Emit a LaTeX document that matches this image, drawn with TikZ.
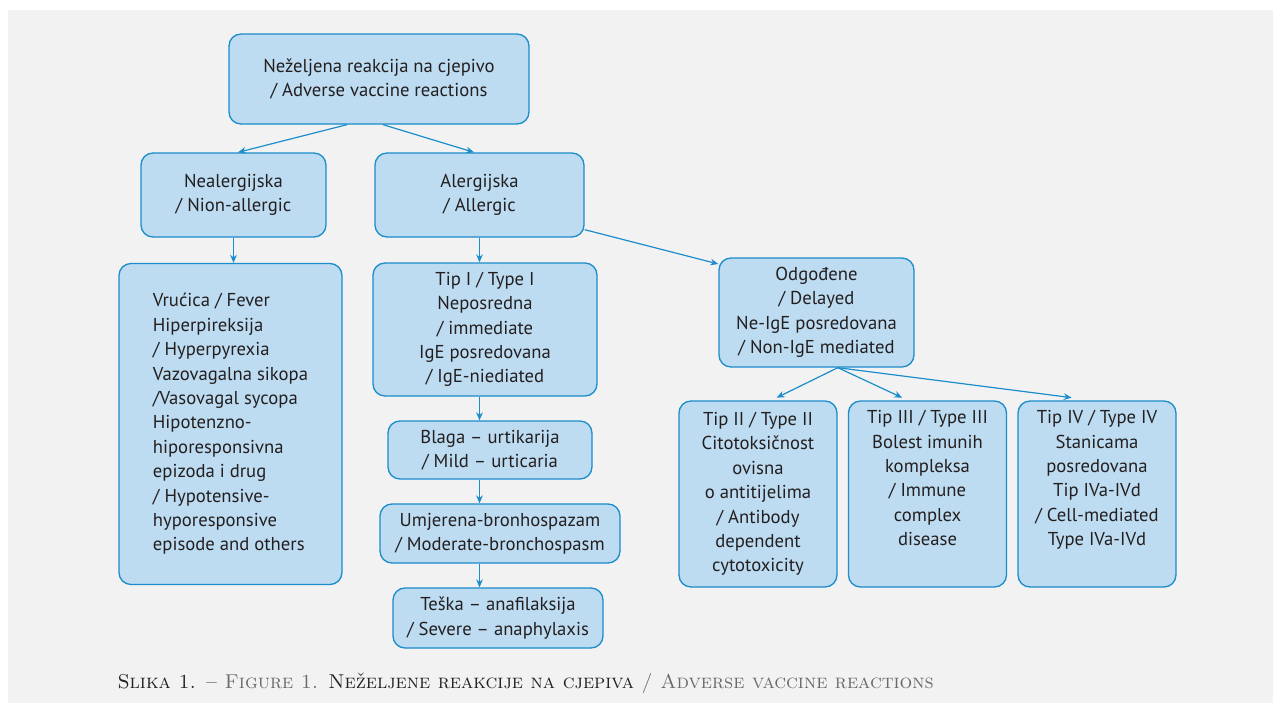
\documentclass[tikz,border=0pt]{standalone}
\usepackage{fontspec}
\newfontfamily\boxfont{PT Sans}
\usetikzlibrary{arrows.meta}

\definecolor{panelgray}{RGB}{242,242,242}
\definecolor{boxblue}{RGB}{190,220,241}
\definecolor{lineblue}{RGB}{27,140,204}
\definecolor{txtdark}{RGB}{35,31,32}
\definecolor{capgray}{RGB}{105,105,108}

\tikzset{every picture/.style={line width=0.75pt}}
\tikzset{
	blk/.style={draw=lineblue, fill=boxblue, rounded corners=9pt, line width=1pt, align=center, inner sep=0pt, text=txtdark, font=\boxfont\fontsize{14}{18.3}\selectfont},
	conn/.style={draw=lineblue, line width=0.9pt, -{Stealth[length=6pt,width=5pt]}},
}

\begin{document}
\begin{tikzpicture}[x=0.75pt,y=0.75pt,yscale=-1,xscale=1]
	\useasboundingbox (0,0) rectangle (1273,703);
	%Panel
	\fill [panelgray] (8,10) rectangle (1273,703);

	%Rounded Rect: top
	\node [blk, minimum width=225pt, minimum height=67.5pt] (root) at (379,79) {Neželjena reakcija na cjepivo\\/ Adverse vaccine reactions};
	%Rounded Rect: second row
	\node [blk, minimum width=138.75pt, minimum height=63pt] (neal) at (233.5,195) {Nealergijska\\/ Nion-allergic};
	\node [blk, minimum width=156.75pt, minimum height=63pt] (aler) at (479.5,195) {Alergijska\\/ Allergic};
	%Rounded Rect: list of non-allergic
	\node [blk, align=left, minimum width=167.25pt, minimum height=240.75pt] (nlist) at (230.5,424) {Vrućica / Fever\\Hiperpireksija\\/ Hyperpyrexia\\Vazovagalna sikopa\\/Vasovagal sycopa\\Hipotenzno-\\hiporesponsivna\\epizoda i drug\\/ Hypotensive-\\hyporesponsive\\episode and others};
	%Rounded Rect: type I chain
	\node [blk, minimum width=168pt, minimum height=99.75pt] (tip1) at (485,329.5) {Tip I / Type I\\Neposredna\\/ immediate\\IgE posredovana\\/ IgE-niediated};
	\node [blk, minimum width=153pt, minimum height=43.5pt] (blaga) at (490,450) {Blaga – urtikarija\\/ Mild – urticaria};
	\node [blk, minimum width=180pt, minimum height=44.25pt] (umj) at (500,533.5) {Umjerena-bronhospazam\\/ Moderate-bronchospasm};
	\node [blk, minimum width=157.5pt, minimum height=45pt] (teska) at (498,618) {Teška – anafilaksija\\/ Severe – anaphylaxis};
	%Rounded Rect: delayed
	\node [blk, minimum width=146.25pt, minimum height=81.75pt] (odg) at (816.5,312.5) {Odgođene\\/ Delayed\\Ne-IgE posredovana\\/ Non-IgE mediated};
	\node [blk, minimum width=118.5pt, minimum height=139.5pt] (tip2) at (758,494) {Tip II / Type II\\Citotoksičnost\\ovisna\\o antitijelima\\/ Antibody\\dependent\\cytotoxicity};
	\node [blk, minimum width=118.5pt, minimum height=139.5pt] (tip3) at (927.5,494) {Tip III / Type III\\Bolest imunih\\kompleksa\\/ Immune\\complex\\disease\\\strut};
	\node [blk, minimum width=118.5pt, minimum height=139.5pt] (tip4) at (1097,494) {Tip IV / Type IV\\Stanicama\\posredovana\\Tip IVa-IVd\\/ Cell-mediated\\Type IVa-IVd\\\strut};

	%Arrows
	\draw [conn] ([xshift=-24pt]root.south) -- ([xshift=3.4pt]neal.north);
	\draw [conn] ([xshift=3pt]root.south) -- ([xshift=-4.1pt]aler.north);
	\draw [conn] (neal.south) -- (neal.south |- nlist.north);
	\draw [conn] (aler.south) -- (aler.south |- tip1.north);
	\draw [conn] ([yshift=-6pt]aler.south east) -- ([yshift=5pt]odg.north west);
	\draw [conn] (tip1.south -| aler.south) -- (blaga.north -| aler.south);
	\draw [conn] (blaga.south -| aler.south) -- (umj.north -| aler.south);
	\draw [conn] (umj.south -| aler.south) -- (teska.north -| aler.south);
	\draw [conn] ([xshift=16pt]odg.south) -- ([xshift=14pt,yshift=-2pt]tip2.north);
	\draw [conn] ([xshift=16pt]odg.south) -- ([xshift=-19pt,yshift=-2pt]tip3.north);
	\draw [conn] ([xshift=16pt]odg.south) -- ([xshift=-19pt,yshift=-2pt]tip4.north);

	% Text Node
	\node [anchor=base west, inner sep=0pt, text=txtdark, font=\fontsize{15}{18}\selectfont\scshape] (cap) at (117,688) {Slika 1. – {\color{capgray}Figure 1.} Neželjene reakcije na cjepiva {\color{capgray}/ Adverse vaccine reactions}};

\end{tikzpicture}
\end{document}
